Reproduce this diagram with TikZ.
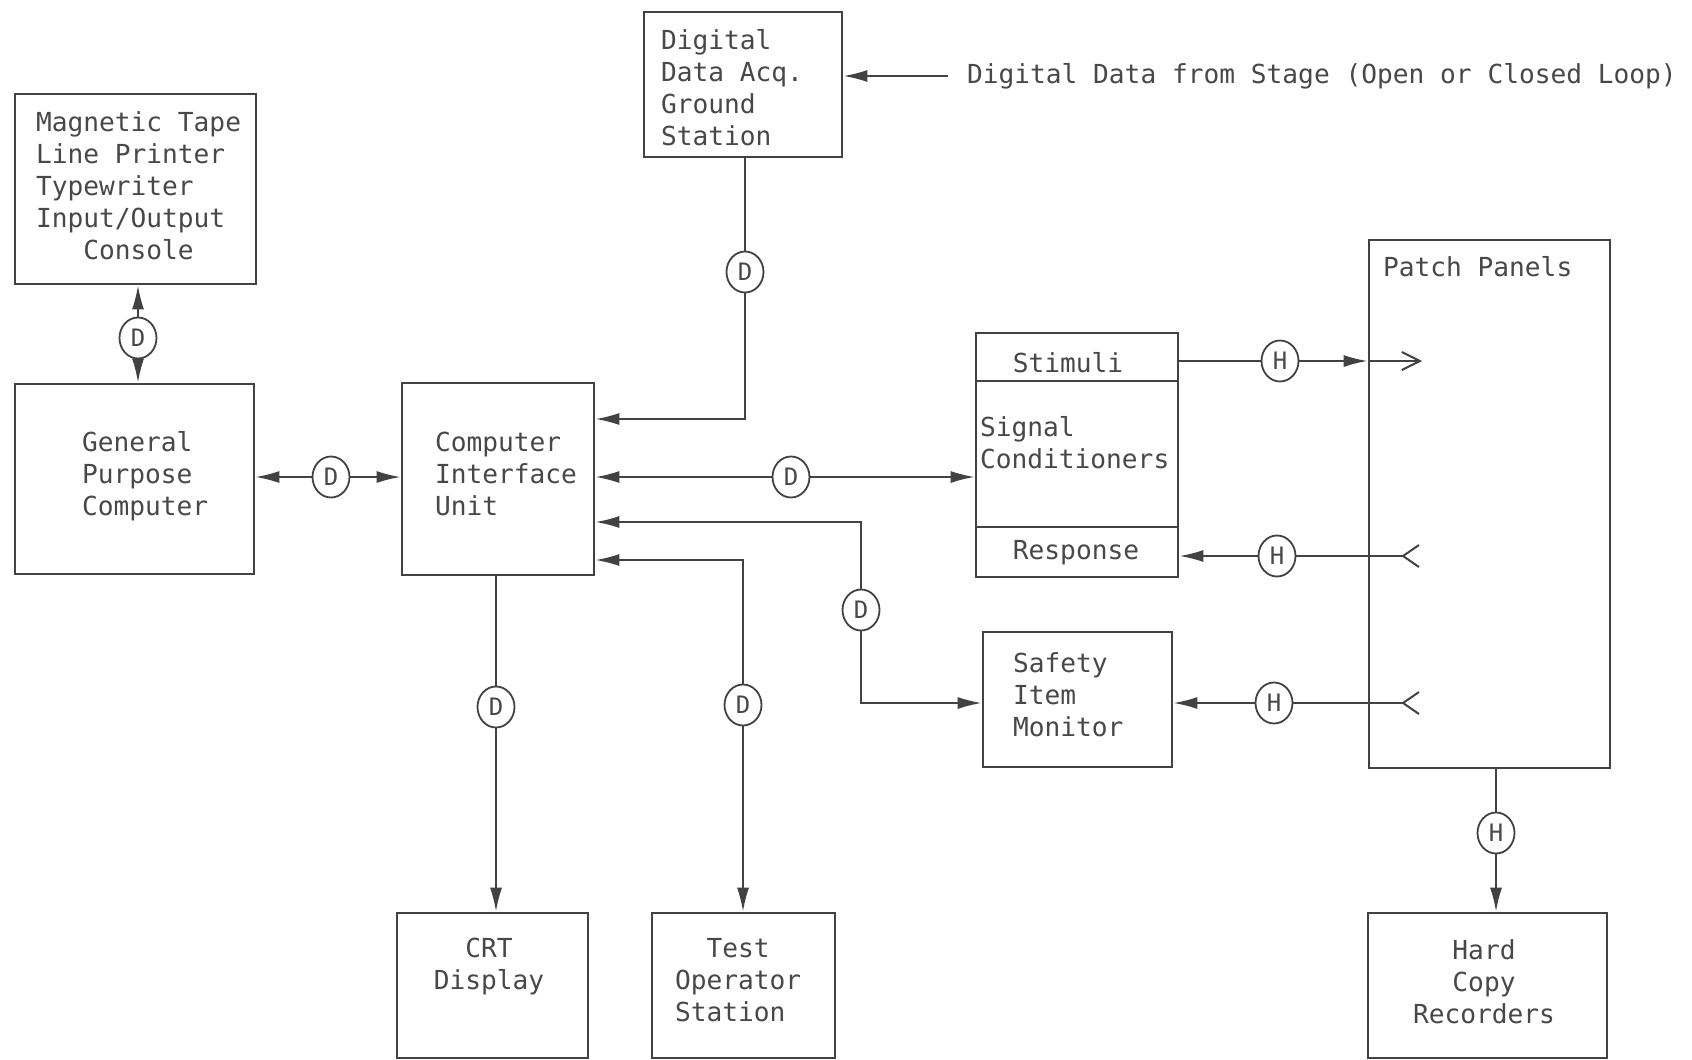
\documentclass[tikz,border=0pt]{standalone}
\usepackage{fontspec}
\newfontfamily\tw{DejaVu Sans Mono}
\usetikzlibrary{arrows.meta,fit,shapes.geometric}
\definecolor{ink}{HTML}{424242}
\definecolor{txtc}{HTML}{484848}
\begin{document}
\begin{tikzpicture}[x=0.5pt,y=-0.5pt,
  box/.style={draw=ink, line width=1.3pt, inner sep=0pt, fit={#1}},
  txt/.style={inner sep=0pt, outer sep=0pt, text=txtc, font=\tw\fontsize{13.1}{16}\selectfont, align=left, anchor=north west},
  ctxt/.style={txt, align=center, anchor=north},
  lab/.style={ellipse, draw=ink, line width=0.9pt, minimum width=18.5pt, minimum height=20.5pt, inner sep=0pt, text=txtc, font=\tw\fontsize{12}{14}\selectfont},
  ln/.style={draw=ink, line width=1pt},
  arr/.style={ln, -{Latex[length=12pt,width=6pt]}},
  barb/.style={ln, -{Straight Barb[length=9pt,width=9pt]}}
]
\useasboundingbox (0,0) rectangle (1692,1060);
\fill[white] (0,0) rectangle (1692,1060);

% boxes
\node[box={(15,94) (256,284)}] (mag) {};
\node[box={(15,384) (254,574)}] (gpc) {};
\node[box={(402,383) (594,575)}] (ciu) {};
\node[box={(644,12) (842,157)}] (dda) {};
\node[box={(976,333) (1178,381)}] (stim) {};
\node[box={(976,381) (1178,527)}] (scb) {};
\node[box={(976,527) (1178,577)}] (resp) {};
\node[box={(983,632) (1172,767)}] (sim) {};
\node[box={(1369,240) (1610,768)}] (pp) {};
\node[box={(397,913) (588,1058)}] (crt) {};
\node[box={(652,913) (835,1058)}] (tos) {};
\node[box={(1368,913) (1607,1058)}] (hcr) {};

% texts
\node[txt] (magT) at (36,109) {\strut Magnetic Tape\\Line Printer\\Typewriter\\Input/Output\\\phantom{xxx}Console};
\node[txt] (ddaT) at (661,27) {\strut Digital\\Data Acq.\\Ground\\Station};
\node[txt] (gpcT) at (82,429) {\strut General\\Purpose\\Computer};
\node[txt] (ciuT) at (435,429) {\strut Computer\\Interface\\Unit};
\node[ctxt] (stimT) at (1068,350) {\strut Stimuli};
\node[txt] (scT) at (980,414) {\strut Signal\\Conditioners};
\node[ctxt] (respT) at (1076,537) {\strut Response};
\node[txt] (simT) at (1013,650) {\strut Safety\\Item\\Monitor};
\node[txt] (ppT) at (1383,254) {\strut Patch Panels};
\node[ctxt] (crtT) at (489,935) {\strut CRT\\Display};
\node[txt] (tosT) at (675,935) {\strut\phantom{xx}Test\\Operator\\Station};
\node[ctxt] (hcrT) at (1484,937) {\strut Hard\\Copy\\Recorders};
\node[txt] (stage) at (967,61) {\strut Digital Data from Stage (Open or Closed Loop)};

% circle labels
\node[lab] (dM) at (138,338) {D};
\node[lab] (dG) at (331,477) {D};
\node[lab] (dA) at (745,272) {D};
\node[lab] (dS) at (791,477) {D};
\node[lab] (dF) at (861,610) {D};
\node[lab] (dT) at (743,705) {D};
\node[lab] (dC) at (496,707) {D};
\node[lab] (hS) at (1280,361) {H};
\node[lab] (hR) at (1277,556) {H};
\node[lab] (hM) at (1274,703) {H};
\node[lab] (hP) at (1496,833) {H};

% helper coordinates
\coordinate (yA) at (0,419);
\coordinate (yF) at (0,522);
\coordinate (yT) at (0,560);
\coordinate (stg) at (948,76);
\coordinate (stimTip) at (1422,361);
\coordinate (recR) at (1403,556);
\coordinate (recM) at (1403,703);

% connectors
\draw[arr] (dM) -- (dM |- mag.south);
\draw[arr] (dM) -- (dM |- gpc.north);
\draw[arr] (dG) -- (gpc.east |- dG);
\draw[arr] (dG) -- (ciu.west |- dG);
\draw[ln] (dA |- dda.south) -- (dA);
\draw[arr] (dA) |- (ciu.east |- yA);
\draw[arr] (stg) -- (dda.east |- stg);
\draw[arr] (dS) -- (ciu.east |- dS);
\draw[arr] (dS) -- (scb.west |- dS);
\draw[arr] (dF) |- (ciu.east |- yF);
\draw[arr] (dF) |- (sim.west |- hM);
\draw[arr] (dT) |- (ciu.east |- yT);
\draw[arr] (dT) -- (dT |- tos.north);
\draw[ln] (dC |- ciu.south) -- (dC);
\draw[arr] (dC) -- (dC |- crt.north);
\draw[ln] (stim.east |- hS) -- (hS);
\draw[arr] (hS) -- (pp.west |- hS);
\draw[barb] (pp.west |- hS) -- (stimTip);
\draw[ln] (recR) -- (hR);
\draw[arr] (hR) -- (resp.east |- hR);
\draw[ln] ([shift={(16,-11)}]recR) -- (recR) -- ([shift={(16,11)}]recR);
\draw[ln] (recM) -- (hM);
\draw[arr] (hM) -- (sim.east |- hM);
\draw[ln] ([shift={(16,-11)}]recM) -- (recM) -- ([shift={(16,11)}]recM);
\draw[ln] (hP |- pp.south) -- (hP);
\draw[arr] (hP) -- (hP |- hcr.north);
\end{tikzpicture}
\end{document}
